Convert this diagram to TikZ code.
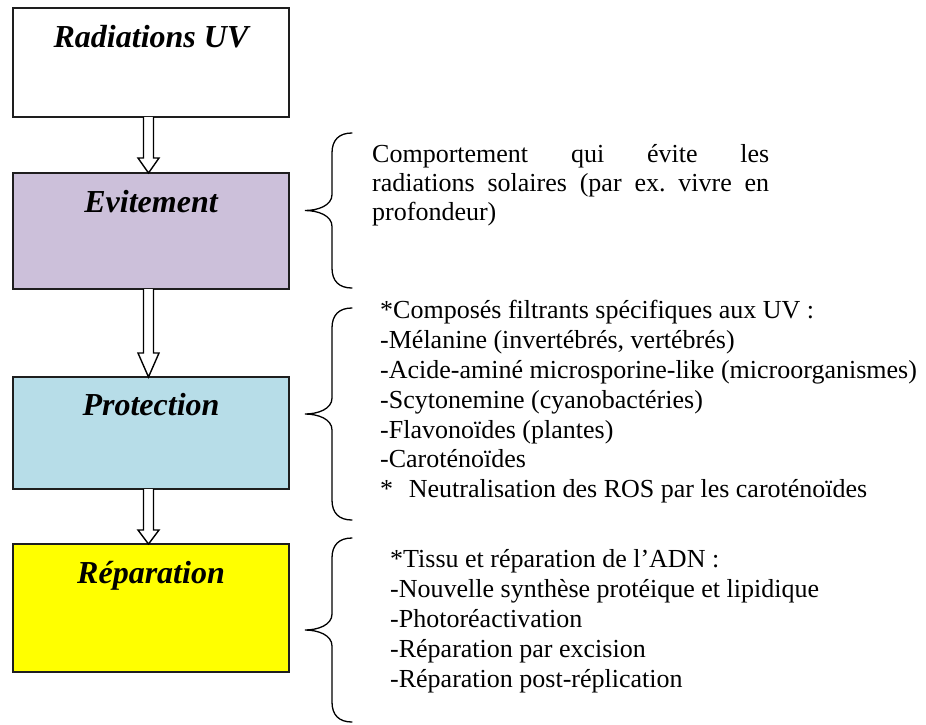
\documentclass[tikz,border=0pt]{standalone}
\usepackage{fontspec}
\setmainfont{Liberation Serif}
\usetikzlibrary{calc}

\definecolor{lavender}{RGB}{204,192,218}
\definecolor{paleblue}{RGB}{183,221,232}
\definecolor{brightyellow}{RGB}{255,255,0}
\definecolor{boxline}{RGB}{30,30,30}

% hollow block arrow from the bottom of #1 to the top of #2, head length #3
\newcommand\stagearrow[3]{%
  \draw[blockarr]
    ($(#1.south)+(-7.5,0)$) -- ($(#2.north)+(-7.5,-#3)$)
    -- ($(#2.north)+(-13,-#3)$) -- ($(#2.north)+(-2.5,0)$)
    -- ($(#2.north)+(8,-#3)$) -- ($(#2.north)+(2.5,-#3)$)
    -- ($(#1.south)+(2.5,0)$);}

% left curly brace spanning from y=#1 to y=#2
\newcommand\sidebrace[2]{%
  \pgfmathsetmacro\bmid{(#1+#2)/2}
  \draw[curly] (352,#1) .. controls (339,#1) and (332,#1+7) .. (332,#1+20)
    -- (332,\bmid-16) .. controls (332,\bmid-5) and (318,\bmid) .. (305,\bmid)
    .. controls (318,\bmid) and (332,\bmid+5) .. (332,\bmid+16)
    -- (332,#2-20) .. controls (332,#2-7) and (339,#2) .. (352,#2);}

\frenchspacing

\begin{document}
\begin{tikzpicture}[x=1pt,y=-1pt,
  stage/.style={draw=boxline, line width=1.4pt, minimum width=276pt,
    inner sep=0pt, outer sep=0pt},
  stagelabel/.style={font=\fontsize{32}{36}\selectfont\bfseries\itshape,
    anchor=base, inner sep=0pt},
  bodyline/.style={font=\fontsize{26}{30}\selectfont, anchor=base west,
    inner sep=0pt},
  curly/.style={line width=1.3pt, line cap=round},
  blockarr/.style={draw=black, line width=1.4pt, fill=white, line join=miter}]

\useasboundingbox (0,0) rectangle (926,724);

% stages
\node[stage, minimum height=109pt] (uv) at (151,62.5) {};
\node[stage, fill=lavender, minimum height=116pt] (evit) at (151,231) {};
\node[stage, fill=paleblue, minimum height=112pt] (prot) at (151,433) {};
\node[stage, fill=brightyellow, minimum height=128pt] (rep) at (151,608) {};

\node[stagelabel] (uvlabel) at ($(uv.north)+(0,39)$) {Radiations UV};
\node[stagelabel] (evitlabel) at ($(evit.north)+(0,39)$) {Evitement};
\node[stagelabel] (protlabel) at ($(prot.north)+(0,38)$) {Protection};
\node[stagelabel] (replabel) at ($(rep.north)+(0,39)$) {Réparation};

% arrows between stages
\stagearrow{uv}{evit}{15}
\stagearrow{evit}{prot}{24}
\stagearrow{prot}{rep}{14}

% braces
\sidebrace{133}{288}
\sidebrace{308}{520}
\sidebrace{538}{722}

% avoidance
\node[bodyline] (e1) at (372,162) {\makebox[397pt][s]{Comportement qui évite les}};
\node[bodyline] (e2) at (372,191) {\makebox[397pt][s]{radiations solaires (par ex. vivre en}};
\node[bodyline] (e3) at (372,220) {profondeur)};

% protection
\node[bodyline] (p1) at (380,318) {*Composés filtrants spécifiques aux UV :};
\node[bodyline] (p2) at (380,348) {-Mélanine (invertébrés, vertébrés)};
\node[bodyline] (p3) at (380,378) {-Acide-aminé microsporine-like (microorganismes)};
\node[bodyline] (p4) at (380,408) {-Scytonemine (cyanobactéries)};
\node[bodyline] (p5) at (380,438) {-Flavonoïdes (plantes)};
\node[bodyline] (p6) at (380,467) {-Caroténoïdes};
\node[bodyline] (p7) at (380,497) {*\hspace{0.6em}Neutralisation des ROS par les caroténoïdes};

% repair
\node[bodyline] (r1) at (390,567) {*Tissu et réparation de l’ADN :};
\node[bodyline] (r2) at (390,597) {-Nouvelle synthèse protéique et lipidique};
\node[bodyline] (r3) at (390,627) {-Photoréactivation};
\node[bodyline] (r4) at (390,657) {-Réparation par excision};
\node[bodyline] (r5) at (390,687) {-Réparation post-réplication};
\end{tikzpicture}
\end{document}
